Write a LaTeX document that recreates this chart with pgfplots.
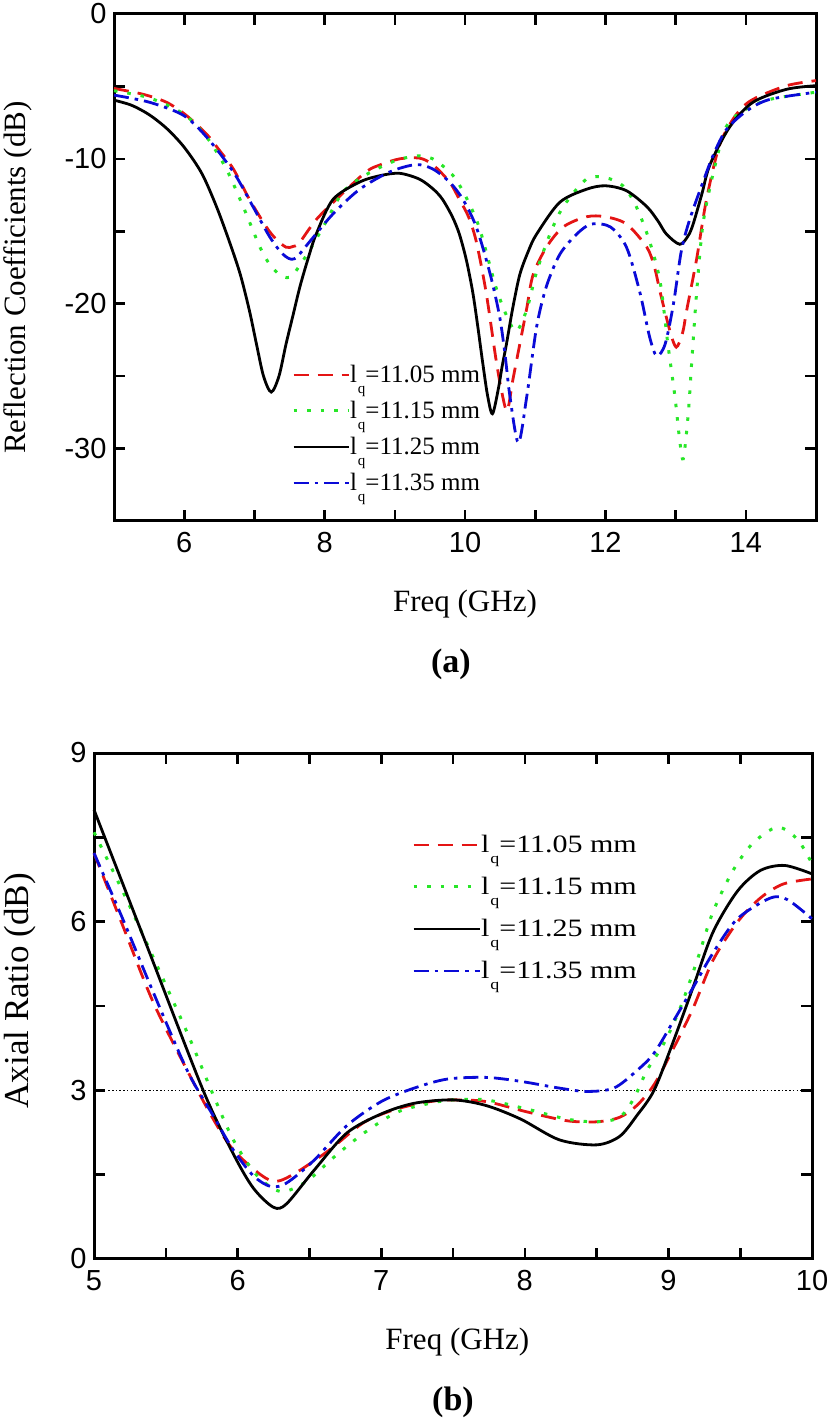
\documentclass[border=0pt]{standalone}
\usepackage{fontspec}
\setmainfont{Liberation Serif}
\newfontfamily\arial{Liberation Sans}
\newfontfamily\wideserif[FakeStretch=1.2]{Liberation Serif}
\usepackage{pgfplots}
\pgfplotsset{compat=1.18}

\definecolor{cRed}{RGB}{228,20,20}
\definecolor{cGreen}{RGB}{40,230,40}
\definecolor{cBlue}{RGB}{10,10,215}

\newcommand{\lqt}[1]{l\kern1pt\raisebox{-11pt}{\fontsize{15}{15}\selectfont q}=#1 mm}

\pgfplotsset{
  panel/.style={
    scale only axis, clip=false,
    axis line style={line width=3pt},
    every tick/.style={black, line width=2.6pt},
    major tick length=11pt, minor tick length=11pt,
    tick label style={font=\arial\fontsize{29}{29}\selectfont},
    xticklabel style={yshift=-8pt},
    yticklabel style={xshift=-4pt},
    /pgf/number format/assume math mode=true,
    label style={font=\fontsize{31}{31}\selectfont},
    legend cell align=left,
  },
  sred/.style={cRed, line width=2.8pt, dash pattern=on 15pt off 9pt, smooth},
  sgreen/.style={cGreen, line width=3pt, dash pattern=on 3.5pt off 10pt, smooth},
  sblack/.style={black, line width=2.8pt, smooth},
  sblue/.style={cBlue, line width=2.8pt, dash pattern=on 15pt off 6pt on 3.5pt off 6pt, smooth},
}

\begin{document}
\begin{tikzpicture}
\useasboundingbox (0,0) rectangle (827pt,1423pt);

% (a) reflection coefficients
\begin{axis}[panel,
  at={(114pt,902pt)}, anchor=south west,
  width=702pt, height=507pt,
  xmin=5, xmax=15, ymin=-35, ymax=0,
  xtick={6,8,10,12,14}, minor xtick={5,7,9,11,13,15},
  ytick={-30,-20,-10,0}, minor ytick={-35,-25,-15,-5},
  xlabel={Freq (GHz)}, ylabel={Reflection Coefficients (dB)},
  xlabel style={at={(axis description cs:0.5,-0.164)}, anchor=center},
  ylabel style={at={(axis description cs:-0.137,0.48)}, anchor=center},
  legend style={draw=none, fill=none, inner sep=0pt, outer sep=0pt,
    at={(0.2536,0.3077)}, anchor=north west,
    font=\fontsize{25}{25}\selectfont,
    nodes={inner sep=0pt, text height=18pt, text depth=18pt},
    /tikz/every even column/.append style={column sep=3pt}},
  legend image code/.code={\draw[#1] (0pt,8pt) -- (55pt,8pt);},
]
\addplot[sred] coordinates {(5,-5.14)(5.42,-5.55)(5.75,-6.1)(6.03,-7.0)(6.32,-8.3)(6.5,-9.4)(6.7,-10.7)(6.93,-12.8)(7.17,-14.7)(7.3,-15.5)(7.45,-16.1)(7.55,-16.05)(7.64,-15.8)(7.88,-14.2)(8.21,-12.6)(8.59,-10.9)(8.8,-10.4)(9.07,-10.0)(9.35,-9.95)(9.54,-10.4)(9.78,-11.6)(9.92,-12.8)(10.05,-14.0)(10.16,-15.7)(10.3,-19.2)(10.44,-23.8)(10.52,-26.0)(10.6,-27.4)(10.68,-25.3)(10.78,-22.8)(10.88,-20.3)(10.97,-18.0)(11.16,-16.1)(11.4,-14.7)(11.73,-14.0)(12.0,-14.0)(12.3,-14.5)(12.59,-16.1)(12.7,-17.5)(12.78,-19.2)(12.92,-21.9)(13.01,-23.0)(13.1,-22.0)(13.16,-20.4)(13.3,-16.9)(13.44,-12.8)(13.63,-9.0)(13.87,-6.9)(14.1,-5.9)(14.58,-4.95)(15,-4.6)};
\addlegendentry{\lqt{11.05}}
\addplot[sgreen] coordinates {(5,-5.3)(5.51,-5.8)(5.99,-6.9)(6.32,-8.5)(6.6,-10.7)(6.84,-13.3)(7.08,-16.1)(7.22,-17.3)(7.36,-18.0)(7.46,-18.2)(7.55,-18.0)(7.75,-16.6)(7.98,-14.7)(8.26,-12.3)(8.59,-11.1)(8.97,-10.2)(9.3,-9.8)(9.54,-10.0)(9.82,-11.1)(10.01,-12.6)(10.2,-14.7)(10.39,-18.0)(10.47,-19.3)(10.59,-20.8)(10.73,-21.9)(10.88,-20.4)(11.02,-17.8)(11.21,-15.2)(11.4,-13.3)(11.73,-11.4)(12.0,-11.3)(12.25,-11.86)(12.44,-13.3)(12.63,-15.7)(12.78,-18.5)(12.89,-22.8)(12.99,-26.4)(13.06,-29.5)(13.11,-30.7)(13.18,-27.6)(13.23,-24.0)(13.3,-19.2)(13.39,-14.5)(13.54,-10.9)(13.72,-7.8)(13.96,-6.7)(14.34,-5.9)(15,-5.4)};
\addlegendentry{\lqt{11.15}}
\addplot[sblack] coordinates {(5.0,-5.95)(5.25,-6.3)(5.5,-6.95)(5.75,-7.9)(6.0,-9.2)(6.25,-11.0)(6.46,-13.3)(6.65,-15.8)(6.8,-18.0)(6.93,-20.5)(7.03,-22.8)(7.13,-25.0)(7.24,-26.1)(7.35,-25.0)(7.45,-22.8)(7.55,-20.8)(7.65,-18.8)(7.77,-16.8)(7.88,-15.2)(8.12,-12.8)(8.5,-11.6)(8.8,-11.15)(9.07,-11.0)(9.35,-11.4)(9.55,-12.1)(9.68,-12.8)(9.82,-14.0)(9.92,-15.2)(10.02,-17.0)(10.11,-19.2)(10.18,-21.5)(10.25,-24.0)(10.32,-26.3)(10.39,-27.6)(10.47,-26.0)(10.53,-24.3)(10.59,-22.8)(10.68,-20.3)(10.78,-18.0)(10.9,-16.4)(11.02,-15.2)(11.35,-13.0)(11.73,-12.1)(12.0,-11.86)(12.3,-12.2)(12.59,-13.3)(12.75,-14.3)(12.87,-15.2)(13.06,-15.9)(13.18,-15.3)(13.25,-14.5)(13.37,-12.5)(13.49,-10.4)(13.77,-7.8)(14.1,-6.1)(14.58,-5.2)(15,-4.95)};
\addlegendentry{\lqt{11.25}}
\addplot[sblue] coordinates {(5,-5.6)(5.51,-6.1)(5.99,-7.0)(6.32,-8.5)(6.7,-10.9)(6.98,-13.3)(7.22,-15.4)(7.41,-16.6)(7.57,-16.9)(7.79,-15.7)(8.12,-13.8)(8.5,-12.1)(8.93,-10.9)(9.3,-10.4)(9.54,-10.7)(9.78,-11.6)(9.97,-12.8)(10.16,-14.7)(10.35,-17.8)(10.49,-20.8)(10.57,-23.5)(10.64,-26.4)(10.76,-29.6)(10.88,-26.4)(11.02,-21.6)(11.16,-18.8)(11.35,-16.6)(11.59,-15.2)(11.8,-14.5)(12.07,-14.7)(12.3,-16.1)(12.49,-19.2)(12.63,-22.3)(12.73,-23.6)(12.85,-22.8)(12.97,-20.0)(13.08,-16.4)(13.2,-14.2)(13.39,-11.6)(13.54,-9.7)(13.72,-8.0)(14.01,-6.7)(14.34,-5.9)(15,-5.4)};
\addlegendentry{\lqt{11.35}}
\node[font=\bfseries\fontsize{34}{34}\selectfont] at (axis description cs:0.48,-0.282) {(a)};
\end{axis}

% (b) axial ratio
\begin{axis}[panel,
  at={(94pt,164pt)}, anchor=south west,
  width=718pt, height=506pt,
  xmin=5, xmax=10, ymin=0, ymax=9,
  xtick={5,6,7,8,9,10}, minor xtick={5.5,6.5,7.5,8.5,9.5},
  ytick={0,3,6,9}, minor ytick={1.5,4.5,7.5},
  xlabel={Freq (GHz)}, ylabel={Axial Ratio (dB)},
  xlabel style={at={(axis description cs:0.506,-0.164)}, anchor=center},
  ylabel style={at={(axis description cs:-0.103,0.53)}, anchor=center, font=\fontsize{35}{35}\selectfont},
  legend style={draw=none, fill=none, inner sep=0pt, outer sep=0pt,
    at={(0.4429,0.8439)}, anchor=north west,
    font=\wideserif\fontsize{25}{25}\selectfont,
    nodes={inner sep=0pt, text height=21pt, text depth=21pt},
    /tikz/every even column/.append style={column sep=3pt}},
  legend image code/.code={\draw[#1] (0pt,8pt) -- (66pt,8pt);},
]
\addplot[black, line width=1.5pt, dash pattern=on 1.5pt off 2.2pt, forget plot] coordinates {(5.1,3)(10,3)};
\addplot[sred] coordinates {(5,7.22)(5.2,5.93)(5.41,4.58)(5.65,3.35)(5.83,2.49)(5.97,1.94)(6.16,1.5)(6.27,1.38)(6.41,1.54)(6.64,1.94)(6.88,2.43)(7.11,2.67)(7.34,2.8)(7.5,2.83)(7.73,2.8)(8.01,2.62)(8.29,2.46)(8.5,2.44)(8.66,2.52)(8.78,2.73)(8.9,3.1)(9.03,3.72)(9.17,4.45)(9.31,5.31)(9.48,5.99)(9.64,6.42)(9.8,6.67)(10,6.76)};
\addlegendentry{\lqt{11.05}}
\addplot[sgreen] coordinates {(5,7.59)(5.2,6.54)(5.41,5.38)(5.65,4.02)(5.83,2.92)(5.97,2.12)(6.13,1.5)(6.3,1.2)(6.48,1.38)(6.67,1.81)(6.88,2.24)(7.11,2.61)(7.34,2.77)(7.5,2.83)(7.73,2.83)(8.01,2.67)(8.29,2.49)(8.5,2.44)(8.66,2.52)(8.76,2.86)(8.85,3.35)(8.97,3.84)(9.08,4.45)(9.2,5.31)(9.31,6.17)(9.45,6.91)(9.59,7.4)(9.76,7.68)(9.9,7.46)(10,7.03)};
\addlegendentry{\lqt{11.15}}
\addplot[sblack] coordinates {(5,7.99)(5.37,5.56)(5.76,3.0)(5.97,1.87)(6.11,1.26)(6.25,0.92)(6.34,0.98)(6.53,1.57)(6.76,2.24)(7.0,2.58)(7.23,2.77)(7.5,2.83)(7.73,2.73)(7.97,2.49)(8.24,2.12)(8.5,2.03)(8.66,2.18)(8.78,2.55)(8.9,3.0)(9.03,3.84)(9.17,4.82)(9.31,5.81)(9.48,6.54)(9.64,6.91)(9.81,7.0)(10,6.85)};
\addlegendentry{\lqt{11.25}}
\addplot[sblue] coordinates {(5,7.22)(5.2,6.05)(5.41,4.76)(5.65,3.35)(5.83,2.55)(5.97,1.94)(6.11,1.48)(6.23,1.29)(6.34,1.35)(6.53,1.75)(6.76,2.37)(7.0,2.8)(7.23,3.04)(7.46,3.2)(7.73,3.23)(7.97,3.16)(8.24,3.04)(8.43,2.98)(8.62,3.04)(8.78,3.35)(8.9,3.66)(9.03,4.21)(9.17,4.82)(9.31,5.44)(9.48,6.05)(9.71,6.42)(9.83,6.39)(10,6.05)};
\addlegendentry{\lqt{11.35}}
\node[font=\bfseries\fontsize{34}{34}\selectfont] at (axis description cs:0.5,-0.283) {(b)};
\end{axis}
\end{tikzpicture}
\end{document}
